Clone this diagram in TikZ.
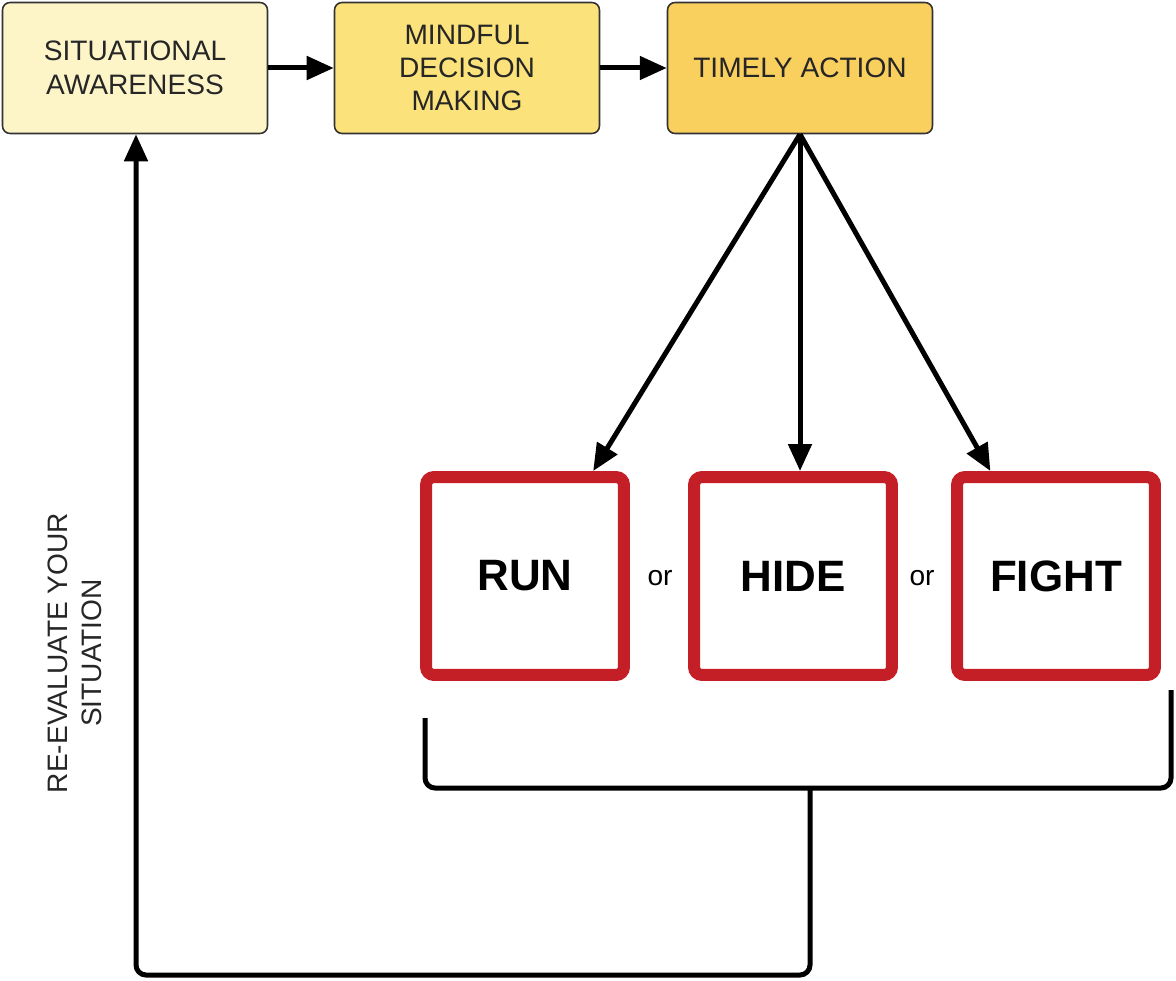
\documentclass[tikz,border=0pt]{standalone}
\usepackage{fontspec}
\setmainfont{Liberation Sans}
\usetikzlibrary{arrows.meta}
\definecolor{awarecol}{HTML}{FDF5C8}
\definecolor{mindcol}{HTML}{FBE27A}
\definecolor{actcol}{HTML}{F9CF5E}
\definecolor{alertred}{HTML}{C41E26}

\begin{document}
\begin{tikzpicture}[x=0.02cm,y=-0.02cm,
    stage/.style={draw=black!80, line width=0.9pt, rounded corners=0.15cm,
      minimum width=5.3cm, minimum height=2.62cm, align=center,
      text=black!85, font=\fontsize{16}{19}\selectfont},
    choice/.style={draw=alertred, line width=0.24cm, rounded corners=0.16cm,
      minimum width=3.96cm, minimum height=3.96cm,
      font=\fontsize{25}{30}\selectfont\bfseries},
    link/.style={line width=0.1cm, -{Triangle[length=0.54cm,width=0.46cm]}},
    plain/.style={line width=0.1cm, rounded corners=0.2cm}]
      \useasboundingbox (0,0) rectangle (1176,980);
      % top row
      \node[stage, fill=awarecol] (aware) at (135,68) {SITUATIONAL\\AWARENESS};
      \node[stage, fill=mindcol] (mind) at (467,68) {MINDFUL\\DECISION\\MAKING};
      \node[stage, fill=actcol] (act) at (800,68) {TIMELY ACTION};
      \draw[link] (aware) -- (mind);
      \draw[link] (mind) -- (act);
      % the three choices
      \node[choice] (run) at (525,576) {RUN};
      \node[choice] (hide) at (793,576) {HIDE};
      \node[choice] (fight) at (1056,576) {FIGHT};
      \node[font=\fontsize{16}{19}\selectfont] (or1) at (660,578) {or};
      \node[font=\fontsize{16}{19}\selectfont] (or2) at (922,578) {or};
      \draw[link] (act.south) -- (run.57);
      \draw[link] (act.south) -- (act.south |- hide.north);
      \draw[link] (act.south) -- (fight.122);
      % back to the start
      \coordinate (brl) at (425,718);
      \coordinate (brr) at (1171,690);
      \coordinate (stem) at (810,788);
      \coordinate (loop) at (136,975);
      \draw[plain] (brl) |- (stem) -| (brr);
      \draw[link, rounded corners=0.2cm] (stem) |- (loop) -- (aware.south -| loop);
      \node[rotate=90, align=center, text=black!85, font=\fontsize{16}{19}\selectfont] (again) at (75,653) {RE-EVALUATE YOUR\\SITUATION};
\end{tikzpicture}
\end{document}
